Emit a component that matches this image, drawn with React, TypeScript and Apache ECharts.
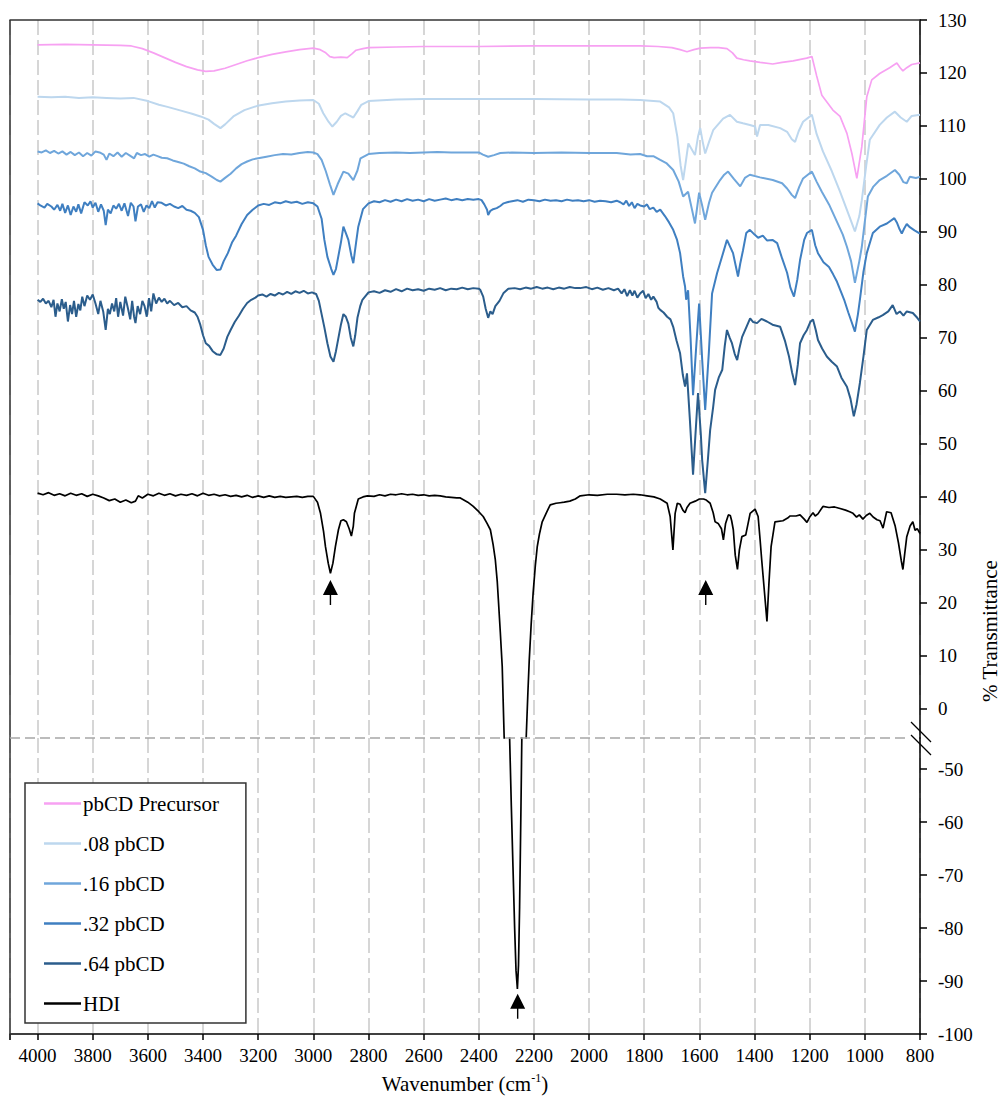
import React, { useEffect, useRef } from "react";
import * as echarts from "echarts";

type P = [number, number][];

const seriesNames = [".08 pbCD", ".16 pbCD", ".32 pbCD", ".64 pbCD", "HDI"];
const precursorName = "pbCD Precursor";
const xTitle = "Wavenumber (cm{sup|-1})";
const yTitle = "% Transmittance";
const upperTicks = [0, 10, 20, 30, 40, 50, 60, 70, 80, 90, 100, 110, 120, 130];
const lowerTicks = [-100, -90, -80, -70, -60, -50];

const precursor: P = [[4000,125.3],[3900,125.4],[3800,125.3],[3700,125.2],[3660,125.1],[3620,124.6],[3580,123.8],[3540,122.9],[3500,122.0],[3460,121.2],[3420,120.6],[3390,120.3],[3360,120.4],[3320,120.9],[3280,121.6],[3240,122.3],[3200,122.9],[3150,123.5],[3100,124.0],[3050,124.4],[3000,124.7],[2975,124.4],[2955,123.8],[2940,123.1],[2925,122.9],[2900,123.0],[2877,122.9],[2860,123.6],[2845,124.3],[2820,124.6],[2800,124.8],[2700,124.9],[2600,125.0],[2400,125.0],[2200,125.1],[2000,125.1],[1900,125.1],[1815,125.1],[1750,125.0],[1700,124.8],[1670,124.4],[1645,124.0],[1620,124.4],[1597,124.7],[1560,124.8],[1530,124.8],[1500,124.6],[1480,123.8],[1464,122.8],[1440,122.5],[1417,122.3],[1380,122.0],[1334,121.7],[1300,122.0],[1260,122.3],[1211,122.8],[1192,123.1],[1175,119.5],[1156,115.8],[1116,113.0],[1090,111.8],[1065,108.6],[1047,104.8],[1029,100.1],[1011,106.1],[993,115.5],[975,118.7],[946,119.9],[910,121.0],[884,121.9],[872,121.0],[862,120.4],[848,121.0],[830,121.6],[800,121.9]];

const p08: P = [[4000,115.5],[3950,115.4],[3900,115.5],[3850,115.3],[3800,115.4],[3750,115.3],[3700,115.2],[3652,115.3],[3600,114.7],[3560,114.0],[3529,113.6],[3480,112.9],[3440,112.3],[3409,111.8],[3380,111.2],[3360,110.4],[3337,109.6],[3320,110.3],[3290,111.8],[3250,113.0],[3203,113.8],[3150,114.3],[3100,114.6],[3050,114.8],[3000,114.9],[2980,114.2],[2964,112.4],[2945,110.8],[2931,109.9],[2915,110.8],[2900,111.9],[2884,112.4],[2870,112.0],[2855,111.6],[2840,112.8],[2826,114.0],[2800,114.7],[2700,115.0],[2600,115.1],[2400,115.1],[2200,115.1],[2000,115.0],[1887,115.0],[1815,114.9],[1742,114.6],[1710,113.5],[1695,112.4],[1680,108.0],[1668,102.5],[1659,99.8],[1650,103.0],[1640,106.7],[1630,105.8],[1616,104.5],[1605,108.0],[1597,109.6],[1588,107.0],[1579,104.8],[1565,107.0],[1550,109.2],[1514,111.4],[1489,112.1],[1464,110.8],[1442,110.5],[1417,110.2],[1398,109.9],[1391,108.0],[1380,110.2],[1350,110.2],[1307,109.6],[1282,108.9],[1265,107.5],[1253,107.0],[1240,109.0],[1224,110.8],[1192,112.1],[1175,108.5],[1152,105.2],[1120,101.5],[1090,97.6],[1061,93.6],[1036,90.1],[1020,93.0],[1011,96.0],[995,102.5],[982,107.4],[946,110.2],[920,111.6],[891,112.7],[870,111.6],[848,110.8],[830,111.9],[800,112.1]];

const p16: P = [[4000,105.2],[3985,105.0],[3970,105.4],[3955,104.9],[3940,105.3],[3925,104.8],[3910,105.2],[3895,104.6],[3880,105.1],[3865,104.5],[3850,105.0],[3835,104.3],[3820,104.9],[3805,104.4],[3790,105.2],[3775,105.0],[3760,104.6],[3750,103.6],[3740,104.8],[3725,104.3],[3710,105.0],[3695,104.2],[3680,104.9],[3665,104.4],[3650,103.9],[3640,104.9],[3625,104.5],[3610,104.7],[3595,104.2],[3580,104.6],[3565,104.3],[3550,104.0],[3530,103.9],[3510,103.5],[3490,103.2],[3470,102.9],[3450,102.4],[3430,102.0],[3410,101.4],[3390,101.1],[3370,100.5],[3350,99.8],[3337,99.5],[3320,100.2],[3300,101.0],[3280,102.0],[3260,102.8],[3240,103.3],[3220,103.7],[3200,103.9],[3170,104.2],[3140,104.5],[3110,104.7],[3080,104.6],[3050,104.9],[3020,105.1],[3000,105.0],[2985,104.7],[2970,103.6],[2955,101.5],[2940,99.0],[2927,97.0],[2912,99.0],[2891,101.4],[2873,101.0],[2855,99.8],[2840,101.6],[2829,103.9],[2800,104.7],[2760,104.9],[2700,105.0],[2650,104.9],[2600,105.0],[2550,105.1],[2500,105.0],[2450,105.0],[2400,105.0],[2385,104.6],[2366,104.2],[2345,104.5],[2322,104.9],[2280,105.0],[2200,104.9],[2100,105.0],[2000,104.9],[1900,104.9],[1850,104.6],[1815,104.7],[1790,104.3],[1767,104.3],[1742,103.6],[1720,103.0],[1695,101.7],[1675,99.5],[1659,96.7],[1641,97.6],[1628,94.5],[1616,91.6],[1601,97.4],[1590,95.0],[1579,92.3],[1565,95.5],[1554,97.4],[1525,99.8],[1510,100.8],[1496,101.4],[1475,100.0],[1452,98.6],[1435,100.2],[1417,100.8],[1380,100.3],[1334,99.8],[1300,99.2],[1282,98.2],[1265,97.0],[1253,96.4],[1238,98.5],[1224,100.1],[1192,101.4],[1175,99.5],[1156,97.6],[1130,95.2],[1101,91.9],[1080,89.5],[1065,87.2],[1050,84.5],[1036,80.4],[1020,84.5],[1011,87.2],[1000,92.0],[989,96.7],[970,98.5],[946,99.8],[920,100.6],[891,101.7],[875,100.8],[860,99.4],[848,99.2],[837,100.4],[815,100.2],[800,100.4]];

const p32: P = [[4000,95.4],[3990,95.0],[3975,94.6],[3965,95.3],[3950,94.8],[3940,94.2],[3928,95.1],[3918,94.0],[3910,95.3],[3900,93.6],[3890,95.0],[3880,93.2],[3870,94.8],[3860,93.8],[3852,95.2],[3842,93.5],[3830,95.6],[3818,95.0],[3808,95.8],[3800,94.6],[3790,95.5],[3780,93.8],[3770,95.2],[3760,94.0],[3753,91.3],[3745,94.2],[3735,93.5],[3725,95.0],[3715,94.4],[3705,95.3],[3695,94.0],[3685,95.4],[3672,93.0],[3662,95.5],[3652,94.8],[3645,92.0],[3636,94.8],[3625,95.2],[3615,93.8],[3605,95.0],[3595,94.5],[3585,95.8],[3575,94.6],[3565,95.6],[3550,95.5],[3535,95.0],[3520,95.3],[3505,94.8],[3490,94.5],[3475,94.9],[3460,94.2],[3445,94.0],[3430,93.6],[3415,92.8],[3400,90.4],[3390,87.5],[3380,85.3],[3365,83.8],[3350,82.8],[3337,82.9],[3325,84.5],[3310,86.0],[3295,88.0],[3280,89.3],[3260,91.5],[3240,93.2],[3220,94.2],[3200,95.0],[3180,95.3],[3160,95.1],[3140,95.6],[3120,95.4],[3100,95.8],[3080,95.5],[3060,95.7],[3040,95.3],[3020,95.6],[3000,95.4],[2985,94.8],[2970,92.5],[2960,88.5],[2949,85.3],[2935,83.0],[2927,81.9],[2918,83.0],[2913,84.4],[2900,88.0],[2891,91.0],[2880,89.5],[2873,88.5],[2862,85.5],[2855,84.1],[2845,88.0],[2837,91.0],[2820,94.3],[2800,95.4],[2780,95.8],[2760,95.6],[2740,96.0],[2720,95.7],[2700,96.1],[2680,95.8],[2660,96.2],[2640,95.9],[2620,96.1],[2600,95.8],[2580,96.2],[2560,95.9],[2540,96.1],[2520,96.3],[2500,96.0],[2480,96.2],[2460,96.0],[2440,96.2],[2420,96.1],[2400,96.2],[2390,96.0],[2380,95.2],[2370,94.2],[2366,93.2],[2358,94.0],[2348,94.3],[2335,94.5],[2322,94.9],[2310,95.4],[2297,95.6],[2280,95.8],[2260,96.0],[2240,95.7],[2220,96.1],[2200,96.0],[2180,95.8],[2160,96.1],[2140,95.9],[2120,96.0],[2100,95.8],[2080,96.1],[2060,95.9],[2040,96.0],[2020,95.8],[2000,96.0],[1980,95.7],[1960,95.9],[1940,95.8],[1920,95.6],[1900,95.9],[1887,95.6],[1875,95.2],[1865,95.9],[1855,94.9],[1845,95.6],[1835,94.5],[1825,95.3],[1815,95.0],[1800,94.8],[1790,95.2],[1780,94.3],[1767,94.6],[1755,93.8],[1742,94.2],[1725,93.0],[1710,91.8],[1695,90.4],[1681,88.5],[1670,86.0],[1659,81.6],[1652,79.7],[1648,77.2],[1641,79.0],[1632,70.0],[1623,59.2],[1612,68.0],[1601,76.5],[1590,66.0],[1579,56.4],[1566,67.0],[1554,78.4],[1536,82.2],[1517,85.5],[1500,88.5],[1478,86.0],[1460,81.6],[1452,84.0],[1442,86.5],[1430,89.8],[1417,90.4],[1400,89.5],[1387,88.9],[1370,89.3],[1355,88.4],[1335,88.5],[1318,87.9],[1300,85.0],[1282,82.3],[1270,79.5],[1257,77.8],[1245,81.0],[1235,84.7],[1220,88.5],[1210,89.8],[1192,90.4],[1180,87.5],[1170,86.0],[1150,84.3],[1130,83.4],[1115,82.0],[1101,80.6],[1085,78.5],[1075,77.2],[1060,74.8],[1048,73.0],[1036,71.2],[1025,74.5],[1018,77.2],[1005,82.5],[993,86.0],[971,89.8],[946,91.0],[920,91.6],[893,92.6],[884,91.8],[874,90.5],[866,89.7],[858,90.6],[848,91.5],[837,90.9],[820,90.3],[800,89.7]];

const p64: P = [[4000,77.2],[3990,76.8],[3980,77.4],[3970,76.5],[3960,77.0],[3950,75.8],[3942,77.2],[3935,74.0],[3928,76.5],[3920,75.0],[3912,77.3],[3905,75.5],[3898,76.8],[3890,73.1],[3882,76.2],[3875,74.5],[3868,77.0],[3860,74.0],[3852,76.4],[3845,75.2],[3838,77.8],[3830,76.0],[3820,78.0],[3810,77.2],[3800,78.2],[3790,76.5],[3780,74.5],[3772,77.0],[3762,75.0],[3753,71.5],[3745,75.5],[3738,74.5],[3730,76.5],[3722,75.0],[3715,77.5],[3708,74.0],[3700,76.8],[3690,74.2],[3682,77.8],[3672,75.5],[3664,73.5],[3657,77.0],[3650,74.0],[3645,72.8],[3637,76.0],[3628,74.5],[3620,77.0],[3612,76.0],[3604,74.0],[3596,77.5],[3588,75.0],[3580,78.4],[3570,76.5],[3560,77.6],[3550,76.8],[3540,77.4],[3530,76.5],[3520,77.0],[3505,76.2],[3490,76.6],[3475,75.8],[3460,76.0],[3445,75.2],[3430,74.8],[3420,74.0],[3410,72.5],[3400,70.5],[3390,69.0],[3378,68.5],[3365,67.5],[3350,66.9],[3337,66.8],[3325,68.0],[3312,70.2],[3300,71.5],[3285,73.0],[3270,74.2],[3255,75.5],[3240,76.6],[3225,77.2],[3210,77.6],[3200,78.0],[3185,78.2],[3170,77.8],[3155,78.3],[3140,78.0],[3125,78.5],[3110,78.2],[3095,78.7],[3080,78.3],[3065,78.8],[3050,78.5],[3035,78.9],[3020,78.4],[3005,78.6],[2990,78.3],[2980,77.0],[2970,74.5],[2960,72.0],[2949,69.0],[2938,66.5],[2927,65.5],[2918,67.5],[2909,70.0],[2900,72.5],[2891,74.5],[2882,74.0],[2873,72.7],[2864,70.0],[2855,68.4],[2848,70.5],[2840,73.8],[2830,76.0],[2822,77.2],[2800,78.6],[2780,78.8],[2760,78.5],[2740,79.0],[2720,78.7],[2700,79.2],[2680,78.8],[2660,79.3],[2640,79.0],[2620,79.2],[2600,78.9],[2580,79.3],[2560,79.1],[2540,79.4],[2520,79.0],[2500,79.3],[2480,79.2],[2460,79.5],[2440,79.2],[2420,79.4],[2400,79.3],[2395,79.1],[2384,77.8],[2375,75.5],[2366,73.8],[2358,75.0],[2350,74.5],[2340,76.0],[2325,77.0],[2310,78.5],[2293,79.3],[2270,79.4],[2250,79.2],[2230,79.5],[2210,79.3],[2190,79.6],[2170,79.3],[2150,79.5],[2130,79.2],[2110,79.5],[2090,79.3],[2070,79.6],[2050,79.4],[2032,79.4],[2010,79.6],[1990,79.2],[1970,79.5],[1950,79.1],[1930,79.4],[1910,79.0],[1895,79.3],[1882,78.4],[1872,79.2],[1862,77.9],[1852,79.0],[1843,78.0],[1835,78.9],[1825,77.6],[1815,78.4],[1804,78.9],[1795,77.5],[1785,78.3],[1775,77.2],[1767,77.8],[1755,76.8],[1749,75.7],[1742,75.3],[1730,74.8],[1717,74.0],[1705,73.5],[1695,72.1],[1683,69.5],[1670,67.1],[1660,63.0],[1652,60.8],[1645,63.3],[1635,55.0],[1623,44.2],[1614,52.0],[1605,59.6],[1595,52.0],[1590,47.0],[1579,40.7],[1570,46.5],[1561,52.6],[1550,57.0],[1543,60.2],[1530,62.5],[1517,64.0],[1508,68.5],[1500,71.5],[1490,70.0],[1482,69.0],[1472,67.0],[1463,65.8],[1455,68.0],[1445,70.2],[1430,72.0],[1416,73.7],[1405,73.0],[1391,72.8],[1375,73.6],[1355,73.1],[1335,72.5],[1307,72.1],[1290,69.5],[1275,66.5],[1264,63.5],[1253,61.1],[1243,65.0],[1235,69.0],[1222,70.5],[1210,71.5],[1198,73.0],[1188,73.5],[1178,71.5],[1170,69.6],[1155,68.0],[1138,66.5],[1120,65.5],[1101,64.6],[1085,62.5],[1065,60.8],[1052,58.5],[1040,55.2],[1030,57.5],[1018,61.5],[1005,66.5],[993,71.5],[971,73.4],[950,73.9],[935,74.3],[915,75.0],[899,76.2],[885,74.5],[873,75.0],[860,74.2],[848,75.0],[826,74.7],[810,73.8],[800,73.1]];

const hdi: P = [[4000,40.7],[3980,40.4],[3960,40.8],[3940,40.3],[3920,40.6],[3900,40.2],[3880,40.7],[3860,40.3],[3840,40.6],[3820,40.1],[3800,40.5],[3780,40.2],[3760,39.8],[3740,39.3],[3720,39.6],[3700,39.0],[3680,39.4],[3660,38.9],[3645,39.2],[3635,40.2],[3620,39.8],[3600,40.5],[3580,40.2],[3560,40.7],[3540,40.3],[3520,40.6],[3500,40.2],[3480,40.5],[3460,40.3],[3440,40.6],[3420,40.2],[3400,40.7],[3380,40.3],[3360,40.5],[3340,40.2],[3320,40.4],[3300,40.1],[3280,40.3],[3260,40.0],[3240,40.3],[3220,39.9],[3200,40.2],[3180,39.9],[3160,40.2],[3140,39.9],[3120,40.1],[3100,39.9],[3080,40.0],[3060,40.1],[3040,39.9],[3020,40.1],[3000,40.1],[2985,39.0],[2974,36.9],[2963,33.5],[2956,30.6],[2946,27.5],[2938,25.6],[2929,27.5],[2920,30.6],[2909,33.8],[2900,35.5],[2891,35.7],[2880,35.3],[2870,34.0],[2862,32.6],[2855,34.5],[2851,36.9],[2837,39.6],[2820,40.0],[2804,40.2],[2780,40.1],[2760,40.4],[2740,40.2],[2720,40.5],[2700,40.4],[2680,40.6],[2660,40.4],[2640,40.5],[2620,40.3],[2600,40.4],[2580,40.2],[2560,40.3],[2540,40.2],[2520,40.0],[2500,39.9],[2480,39.8],[2467,39.8],[2440,39.0],[2420,38.2],[2400,37.2],[2384,36.3],[2370,35.0],[2358,33.8],[2348,31.0],[2340,28.1],[2333,24.0],[2329,20.6],[2322,14.5],[2315,8.0],[2308,-5.3],[2300,-22],[2293,-36],[2288,-44.5],[2282,-57],[2276,-68.5],[2270,-80],[2265,-88],[2260,-91.5],[2256,-87],[2252,-76],[2250,-68.5],[2247,-57],[2244,-44.5],[2238,-28],[2233,-15],[2228,-5.3],[2222,3.0],[2217,9.2],[2210,16.0],[2203,21.8],[2195,27.0],[2188,30.6],[2180,33.0],[2170,35.3],[2155,37.0],[2141,38.5],[2120,38.8],[2105,38.9],[2090,39.0],[2070,39.2],[2050,39.6],[2032,40.2],[2000,40.4],[1970,40.3],[1934,40.5],[1900,40.5],[1870,40.4],[1840,40.5],[1815,40.4],[1790,40.2],[1765,40.0],[1742,39.6],[1717,38.8],[1706,36.3],[1696,30.0],[1688,36.9],[1680,38.8],[1670,38.6],[1660,37.5],[1652,37.0],[1645,38.0],[1634,38.8],[1615,39.2],[1600,39.6],[1585,39.6],[1575,39.4],[1561,38.8],[1550,37.0],[1543,35.3],[1532,35.0],[1520,34.0],[1513,31.9],[1505,35.0],[1495,36.6],[1488,36.5],[1483,35.5],[1477,33.8],[1470,29.0],[1462,26.3],[1455,30.0],[1446,32.5],[1432,32.8],[1416,36.9],[1398,37.7],[1387,36.3],[1380,32.0],[1374,28.1],[1364,22.0],[1355,16.5],[1348,23.5],[1340,30.6],[1326,35.3],[1297,35.5],[1280,36.0],[1271,36.4],[1250,36.4],[1235,36.6],[1220,35.8],[1210,35.2],[1200,36.2],[1188,37.0],[1180,36.4],[1170,36.8],[1152,38.2],[1130,38.0],[1110,38.1],[1090,37.8],[1070,37.5],[1055,37.2],[1043,36.9],[1030,36.2],[1020,36.6],[1007,35.8],[995,36.5],[982,36.9],[970,36.2],[956,35.7],[945,35.5],[934,34.1],[921,37.2],[905,37.0],[890,34.5],[878,31.3],[868,28.0],[862,26.3],[856,29.0],[848,32.5],[836,34.5],[826,35.3],[818,33.7],[810,34.0],[800,33.1]];

const upperArrows: P = [[2938, 24.3], [1577, 24.3]];
const lowerArrows: P = [[2259, -92.4]];

const colors = ["#F7A1F2", "#BDD7EE", "#6FA6DB", "#3F7FC1", "#2B5D8C", "#000000"];

const FONT = "'Liberation Serif', 'DejaVu Serif', 'Times New Roman', serif";
const ARROW = "path://M7.5,0 L15,15 L8.2,15 L8.2,25 L6.8,25 L6.8,15 L0,15 Z";

export default function App() {
  const ref = useRef<HTMLDivElement>(null);
  useEffect(() => {
    if (!ref.current) return;
    const chart = echarts.init(ref.current, undefined, { renderer: "svg" });
    const gridLine = { show: true, lineStyle: { color: "#d6d6d6", width: 2, type: [15, 5] as any } };
    const allNames = [precursorName, ...seriesNames];
    const allData = [precursor, p08, p16, p32, p64, hdi];
    const lineSeries: any[] = allData.map((d, i) => ({
      name: allNames[i],
      type: "line",
      xAxisIndex: 0,
      yAxisIndex: 0,
      data: d,
      showSymbol: false,
      symbol: "none",
      clip: true,
      color: colors[i],
      lineStyle: { color: colors[i], width: i === 0 || i === 5 ? 1.7 : 2 },
      z: 2 + i,
    }));
    lineSeries.push({
      name: "HDI",
      type: "line",
      xAxisIndex: 1,
      yAxisIndex: 1,
      data: hdi,
      showSymbol: false,
      symbol: "none",
      clip: true,
      color: colors[5],
      lineStyle: { color: colors[5], width: 1.7 },
    });
    const arrowStyle = {
      type: "scatter",
      symbol: ARROW,
      symbolSize: [15, 25],
      symbolOffset: [0, "50%"],
      itemStyle: { color: "#000", opacity: 1 },
      silent: true,
      z: 10,
    };
    lineSeries.push({ ...arrowStyle, xAxisIndex: 0, yAxisIndex: 0, data: upperArrows });
    lineSeries.push({ ...arrowStyle, xAxisIndex: 1, yAxisIndex: 1, data: lowerArrows });

    const xBase = {
      type: "value",
      inverse: true,
      min: 800,
      max: 4100,
      interval: 200,
      splitLine: gridLine,
    };
    const yLabel = { fontFamily: FONT, fontSize: 19, color: "#000", margin: 18 };
    const yTick = { show: true, inside: false, length: 7, lineStyle: { color: "#000", width: 1.5 } };

    chart.setOption({
      animation: false,
      textStyle: { fontFamily: FONT },
      grid: [
        { left: 10, right: 83, top: 20, height: 718 },
        { left: 10, right: 83, top: 738, height: 296 },
      ],
      xAxis: [
        {
          ...xBase,
          gridIndex: 0,
          position: "top",
          axisLine: { show: true, onZero: false, lineStyle: { color: "#333", width: 1.5 } },
          axisTick: { show: false },
          axisLabel: { show: false },
        },
        {
          ...xBase,
          gridIndex: 1,
          position: "bottom",
          axisLine: { show: true, onZero: false, lineStyle: { color: "#000", width: 1.5 } },
          axisTick: { show: true, length: 6, lineStyle: { color: "#000", width: 1.5 } },
          axisLabel: {
            fontFamily: FONT,
            fontSize: 19,
            color: "#000",
            margin: 12,
            formatter: (v: number) => (v > 4000 ? "" : String(v)),
          },
          name: xTitle,
          nameLocation: "middle",
          nameGap: 38,
          nameTextStyle: {
            fontFamily: FONT,
            fontSize: 21,
            color: "#000",
            lineHeight: 24,
            rich: { sup: { fontFamily: FONT, fontSize: 12, color: "#000", verticalAlign: "top", lineHeight: 24, padding: [0, 0, 10, 0] } },
          },
        },
      ],
      yAxis: [
        {
          type: "value",
          gridIndex: 0,
          position: "right",
          min: -5.5,
          max: 130,
          axisLine: { show: true, onZero: false, lineStyle: { color: "#000", width: 1.5 } },
          axisTick: { ...yTick, customValues: upperTicks },
          axisLabel: { ...yLabel, customValues: upperTicks },
          splitLine: { show: false },
        },
        {
          type: "value",
          gridIndex: 1,
          position: "right",
          min: -100,
          max: -44.15,
          axisLine: { show: true, onZero: false, lineStyle: { color: "#000", width: 1.5 } },
          axisTick: { ...yTick, customValues: lowerTicks },
          axisLabel: { ...yLabel, customValues: lowerTicks },
          splitLine: { show: false },
        },
      ],
      legend: {
        data: allNames,
        orient: "vertical",
        left: 25,
        top: 783,
        padding: [10, 27, 9, 19],
        itemGap: 19,
        itemWidth: 37,
        itemHeight: 2.5,
        icon: "rect",
        backgroundColor: "#fff",
        borderColor: "#333",
        borderWidth: 1.5,
        selectedMode: false,
        textStyle: { fontFamily: FONT, fontSize: 21, color: "#000", lineHeight: 20, padding: [0, 0, 0, -3] },
      },
      graphic: [
        { type: "line", shape: { x1: 10, y1: 20, x2: 10, y2: 1040 }, style: { stroke: "#333", lineWidth: 1.5 }, z: 100 },
        { type: "line", shape: { x1: 10, y1: 738, x2: 908, y2: 738 }, style: { stroke: "#a6a6a6", lineWidth: 1.5, lineDash: [10, 5] }, z: 100 },
        { type: "line", shape: { x1: 911, y1: 722, x2: 931, y2: 742 }, style: { stroke: "#000", lineWidth: 1.2 }, z: 100 },
        { type: "line", shape: { x1: 911, y1: 735, x2: 931, y2: 755 }, style: { stroke: "#000", lineWidth: 1.2 }, z: 100 },
        {
          type: "text",
          x: 990,
          y: 631,
          rotation: Math.PI / 2,
          style: { text: yTitle, fontFamily: FONT, fontSize: 21, fill: "#000", align: "center", verticalAlign: "middle" },
          z: 100,
        },
      ],
      series: lineSeries,
    });
    return () => chart.dispose();
  }, []);
  return <div ref={ref} style={{ width: 1003, height: 1097, position: "absolute", left: 0, top: 0 }} />;
}
